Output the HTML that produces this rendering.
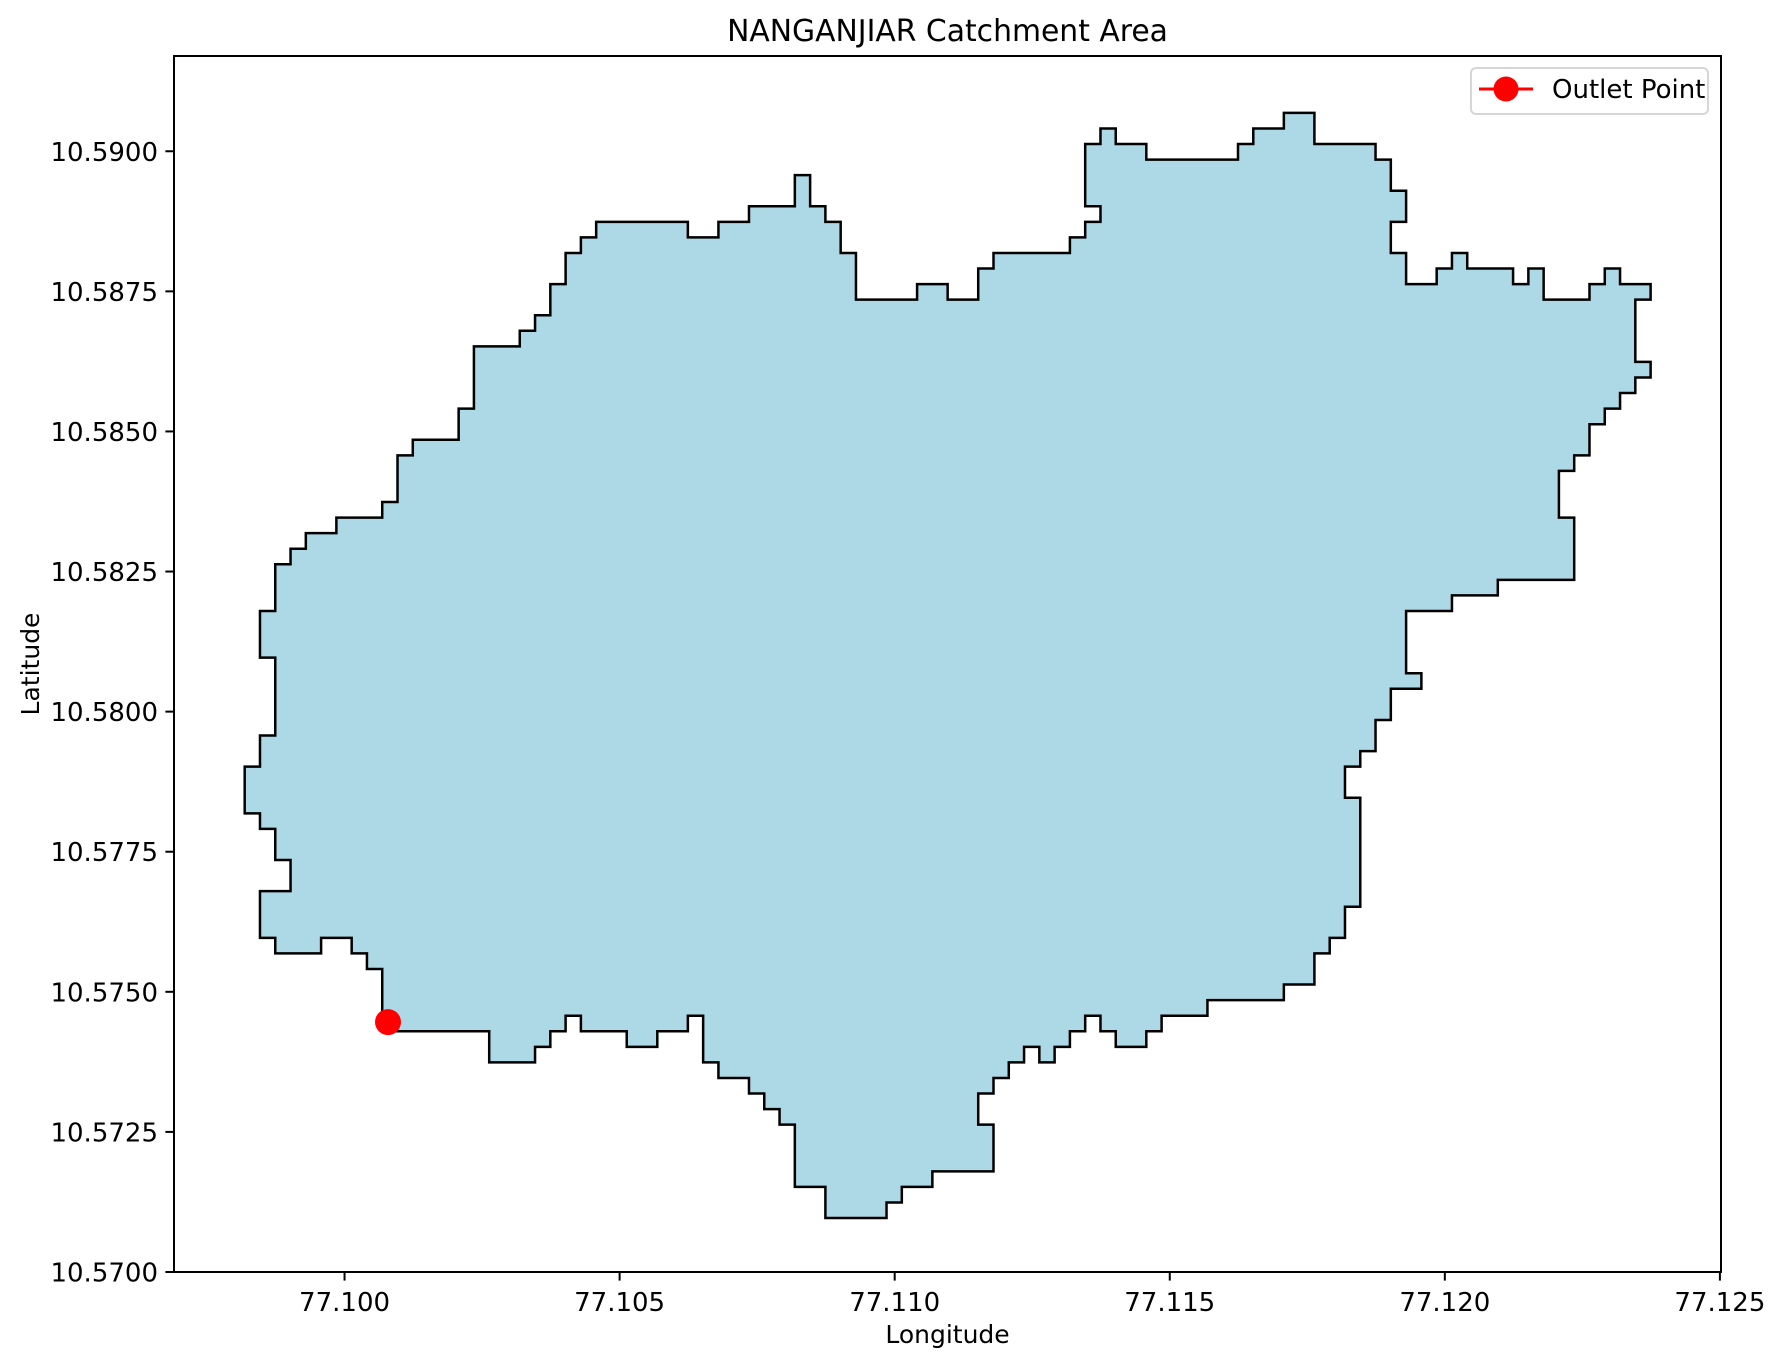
<!DOCTYPE html>
<html><head><meta charset="utf-8"><style>
html,body{margin:0;padding:0;background:#fff;}
svg{display:block;font-family:"DejaVu Sans","Liberation Sans",sans-serif;}
</style></head><body>
<svg id="chart" width="1781" height="1365" viewBox="0 0 1781 1365" xmlns="http://www.w3.org/2000/svg">
<rect x="0" y="0" width="1781" height="1365" fill="#fff"/>
<g id="plot"></g>
<g id="axes"></g>
<text x="947.5" y="41" font-size="29.8" text-anchor="middle" fill="#000">NANGANJIAR Catchment Area</text>
<text x="947.5" y="1343" font-size="25" text-anchor="middle" fill="#000">Longitude</text>
<text x="0" y="0" font-size="25" text-anchor="middle" fill="#000" transform="translate(39,664) rotate(-90)">Latitude</text>
<g>
<rect x="1471" y="68" width="237" height="46" rx="5" fill="#fff" fill-opacity="0.8" stroke="#d6d6d6" stroke-width="2"/>
<line x1="1479" y1="89" x2="1533" y2="89" stroke="#ff0000" stroke-width="3"/>
<circle cx="1506" cy="89" r="12.5" fill="#ff0000"/>
<text x="1552" y="98" font-size="26" fill="#000">Outlet Point</text>
</g>
</svg>
<script>
// Axis limits
const xLim = [77.0969, 77.12502];
const yLim = [10.5700, 10.5917];
const xTicks = [77.100, 77.105, 77.110, 77.115, 77.120, 77.125];
const xTickLabels = ["77.100", "77.105", "77.110", "77.115", "77.120", "77.125"];
const yTicks = [10.5700, 10.5725, 10.5750, 10.5775, 10.5800, 10.5825, 10.5850, 10.5875, 10.5900];
const yTickLabels = ["10.5700", "10.5725", "10.5750", "10.5775", "10.5800", "10.5825", "10.5850", "10.5875", "10.5900"];
// Catchment raster grid (1 arc-second cells)
const originLon = 77.098185;
const originLat = 10.590685;
const cellDeg = 1 / 3600;
const cellCols = [9,9,8,8,7,7,5,5,2,2,1,1,3,3,2,2,1,1,0,0,1,1,2,2,1,1,2,2,3,3,4,4,6,6,9,9,10,10,11,11,14,14,15,15,18,18,19,19,20,20,21,21,22,22,23,23,29,29,31,31,33,33,36,36,37,37,38,38,39,39,40,40,44,44,46,46,48,48,49,49,54,54,55,55,56,56,55,55,56,56,57,57,59,59,65,65,66,66,68,68,70,70,74,74,75,75,76,76,75,75,76,76,78,78,79,79,80,80,83,83,84,84,85,85,88,88,89,89,90,90,92,92,91,91,92,92,91,91,90,90,89,89,88,88,87,87,86,86,87,87,82,82,79,79,76,76,77,77,75,75,74,74,73,73,72,72,73,73,72,72,71,71,70,70,68,68,63,63,60,60,59,59,57,57,56,56,55,55,54,54,53,53,52,52,51,51,50,50,49,49,48,48,49,49,45,45,43,43,42,42,38,38,36,36,35,35,34,34,33,33,31,31,30,30,29,29,27,27,25,25,22,22,21,21,20,20,19,19,16,16];
const cellRows = [59,55,55,54,54,53,53,54,54,53,53,50,50,48,48,46,46,45,45,42,42,40,40,35,35,32,32,29,29,28,28,27,27,26,26,25,25,22,22,21,21,19,19,15,15,14,14,13,13,11,11,9,9,8,8,7,7,8,8,7,7,6,6,4,4,6,6,7,7,9,9,12,12,11,11,12,12,10,10,9,9,8,8,7,7,6,6,2,2,1,1,2,2,3,3,2,2,1,1,0,0,2,2,3,3,5,5,7,7,9,9,11,11,10,10,9,9,10,10,11,11,10,10,12,12,11,11,10,10,11,11,12,12,16,16,17,17,18,18,19,19,20,20,22,22,23,23,26,26,30,30,31,31,32,32,36,36,37,37,39,39,41,41,42,42,44,44,51,51,53,53,54,54,56,56,57,57,58,58,59,59,60,60,59,59,58,58,59,59,60,60,61,61,60,60,61,61,62,62,63,63,65,65,68,68,69,69,70,70,71,71,69,69,65,65,64,64,63,63,62,62,61,61,58,58,59,59,60,60,59,59,58,58,59,59,60,60,61,61,59];
// Outlet point
const outletLon = [77.10079];
const outletLat = [10.57446];

const L = 174, R = 1721, T = 56, B = 1272;
function sx(v){ return L + (v - xLim[0]) / (xLim[1] - xLim[0]) * (R - L); }
function sy(v){ return B - (v - yLim[0]) / (yLim[1] - yLim[0]) * (B - T); }
const NS = "http://www.w3.org/2000/svg";
const plot = document.getElementById('plot');
const axes = document.getElementById('axes');

let d = "";
for (let i = 0; i < cellCols.length; i++) {
  const lon = originLon + cellCols[i] * cellDeg;
  const lat = originLat - cellRows[i] * cellDeg;
  d += (i === 0 ? "M" : "L") + sx(lon).toFixed(2) + "," + sy(lat).toFixed(2);
}
d += "Z";
const poly = document.createElementNS(NS, 'path');
poly.setAttribute('d', d);
poly.setAttribute('fill', '#add8e6');
poly.setAttribute('stroke', '#000');
poly.setAttribute('stroke-width', '2.5');
poly.setAttribute('stroke-linejoin', 'miter');


plot.appendChild(poly);

for (let i = 0; i < outletLon.length; i++) {
  const c = document.createElementNS(NS, 'circle');
  c.setAttribute('cx', sx(outletLon[i]));
  c.setAttribute('cy', sy(outletLat[i]));
  c.setAttribute('r', '13');
  c.setAttribute('fill', '#ff0000');
  
  
  plot.appendChild(c);
}

const frame = document.createElementNS(NS, 'rect');
frame.setAttribute('x', L); frame.setAttribute('y', T);
frame.setAttribute('width', R - L); frame.setAttribute('height', B - T);
frame.setAttribute('fill', 'none'); frame.setAttribute('stroke', '#000'); frame.setAttribute('stroke-width', '2');


axes.appendChild(frame);

xTicks.forEach((v, i) => {
  const x = sx(v);
  const t = document.createElementNS(NS, 'line');
  t.setAttribute('x1', x); t.setAttribute('x2', x); t.setAttribute('y1', B); t.setAttribute('y2', B + 8.6);
  t.setAttribute('stroke', '#000'); t.setAttribute('stroke-width', '2');
  
  
  axes.appendChild(t);
  const lb = document.createElementNS(NS, 'text');
  lb.setAttribute('x', x); lb.setAttribute('y', B + 39);
  lb.setAttribute('font-size', '26'); lb.setAttribute('text-anchor', 'middle');
  lb.textContent = xTickLabels[i];
  
  
  axes.appendChild(lb);
});
yTicks.forEach((v, i) => {
  const y = sy(v);
  const t = document.createElementNS(NS, 'line');
  t.setAttribute('x1', L - 8.6); t.setAttribute('x2', L); t.setAttribute('y1', y); t.setAttribute('y2', y);
  t.setAttribute('stroke', '#000'); t.setAttribute('stroke-width', '2');
  
  
  axes.appendChild(t);
  const lb = document.createElementNS(NS, 'text');
  lb.setAttribute('x', L - 16); lb.setAttribute('y', y + 9.5);
  lb.setAttribute('font-size', '26'); lb.setAttribute('text-anchor', 'end');
  lb.textContent = yTickLabels[i];
  
  
  axes.appendChild(lb);
});
</script>
</body></html>
